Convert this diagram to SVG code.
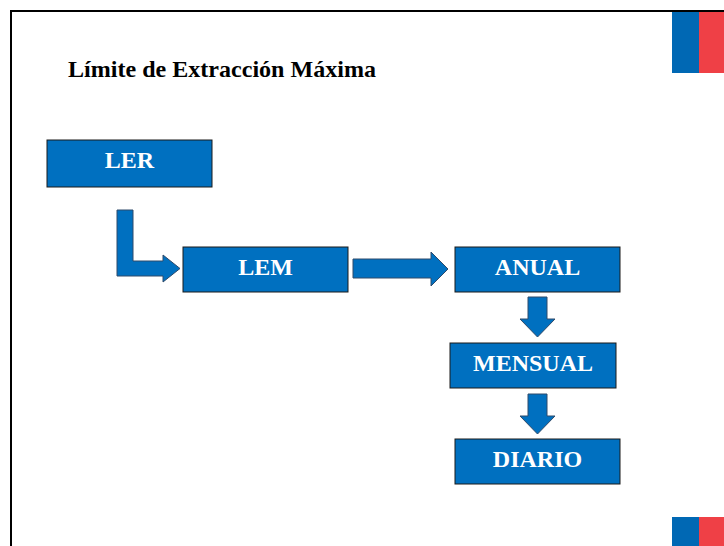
<svg xmlns="http://www.w3.org/2000/svg" width="724" height="546" viewBox="0 0 724 546">
<style>
.box{fill:#0070C0;stroke:#1a1a1a;stroke-width:1}
.lbl{font-family:"Liberation Serif","Times New Roman",serif;font-weight:bold;font-size:24px;fill:#ffffff;text-anchor:middle}
.arr{fill:#0070C0;stroke:#2f4a6a;stroke-width:1}
.title{font-family:"Liberation Serif","Times New Roman",serif;font-weight:bold;font-size:24px;fill:#000000}
</style>
<rect x="0" y="0" width="724" height="546" fill="#ffffff"/>
<path d="M11,546 V11 H724" fill="none" stroke="#000000" stroke-width="2"/>
<g id="flag-top">
<rect x="672" y="12" width="27" height="61" fill="#0068B4"/>
<rect x="699" y="12" width="25" height="61" fill="#EF4046"/>
</g>
<g id="flag-bottom">
<rect x="672" y="517" width="27" height="29" fill="#0068B4"/>
<rect x="699" y="517" width="25" height="29" fill="#EF4046"/>
</g>
<text class="title" x="68" y="77" textLength="308" lengthAdjust="spacingAndGlyphs">Límite de Extracción Máxima</text>
<g id="connectors">
<path class="arr" d="M117,210 H133 V261 H163 V255 L180,268.5 L163,282 V276 H117 Z"/>
<path class="arr" d="M353,259 H431 V252 L448,269 L431,286 V278 H353 Z"/>
<path class="arr" d="M528,297 H547 V319 H555 L537.5,337 L520,319 H528 Z"/>
<path class="arr" d="M528,394 H547 V416 H555 L537.5,434 L520,416 H528 Z"/>
</g>
<g id="LER">
<rect class="box" x="47" y="140" width="165" height="47"/>
<text class="lbl" x="129.5" y="168">LER</text>
</g>
<g id="LEM">
<rect class="box" x="183" y="247" width="165" height="45"/>
<text class="lbl" x="265.5" y="275">LEM</text>
</g>
<g id="ANUAL">
<rect class="box" x="455" y="247" width="165" height="45"/>
<text class="lbl" x="537.5" y="275">ANUAL</text>
</g>
<g id="MENSUAL">
<rect class="box" x="450" y="343" width="166" height="45"/>
<text class="lbl" x="533" y="371">MENSUAL</text>
</g>
<g id="DIARIO">
<rect class="box" x="455" y="439" width="165" height="45"/>
<text class="lbl" x="537.5" y="467">DIARIO</text>
</g>
</svg>
